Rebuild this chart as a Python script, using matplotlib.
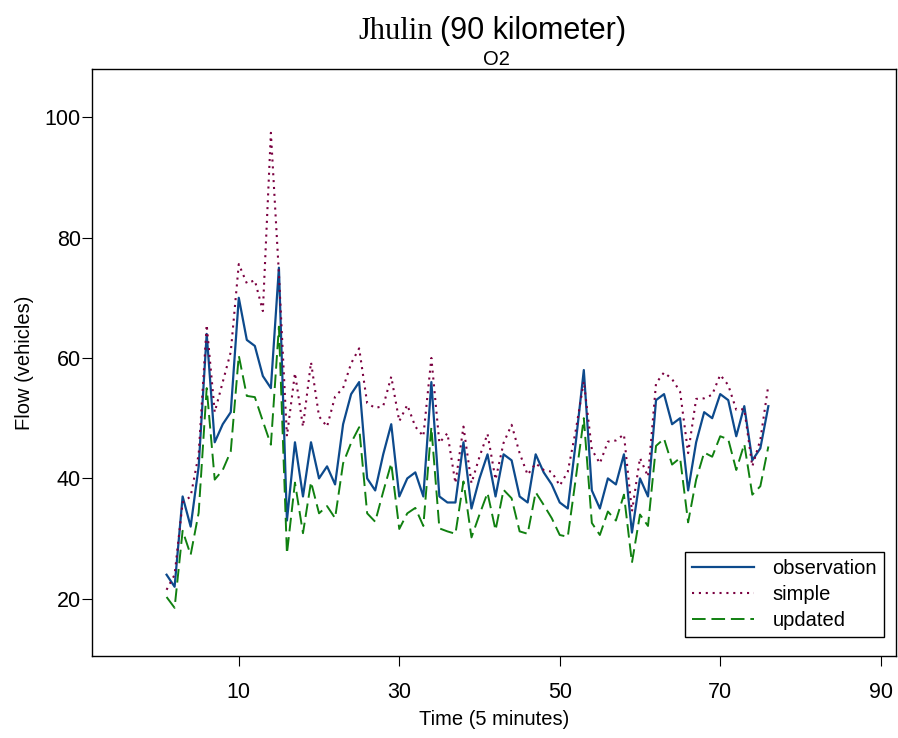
import numpy as np
import matplotlib.pyplot as plt

# time index (5 minute intervals)
t = np.arange(1, 77)

observation = [24, 22, 37, 32, 42, 64, 46, 49, 51, 70,
               63, 62, 57, 55, 75, 33, 46, 37, 46, 40,
               42, 39, 49, 54, 56, 40, 38, 44, 49, 37,
               40, 41, 37, 56, 37, 36, 36, 46, 35, 40,
               44, 37, 44, 43, 37, 36, 44, 41, 39, 36,
               35, 46, 58, 38, 35, 40, 39, 44, 31, 40,
               37, 53, 54, 49, 50, 38, 46, 51, 50, 54,
               53, 47, 52, 43, 45, 52]

simple = [21.5, 24, 36, 37, 44, 65.5, 51, 56, 61, 75.6,
          72.4, 72.9, 67.8, 97.4, 74, 47, 57.5, 48.6, 59.3, 50.3,
          48.6, 53.6, 55, 59.1, 61.6, 52.5, 51.7, 52, 56.9, 49.5,
          52.2, 48.6, 47, 60, 45.9, 47.5, 39.2, 48.6, 39.2, 43.6,
          47.4, 39.8, 45.9, 48.9, 44.2, 40.6, 42.5, 41.4, 41.1, 38.8,
          41.1, 48, 56.1, 44.8, 42.5, 46.1, 46.3, 47.3, 34.5, 43.4,
          40.3, 55.8, 57.6, 56.5, 54.4, 44.2, 53.2, 53.3, 53.9, 57.2,
          55.5, 51.4, 51.5, 42, 46.4, 55.5]

updated = [20.3, 18.5, 31.3, 27.3, 34.3, 55, 39.8, 41.4, 44.5, 60.4,
           53.7, 53.5, 49.5, 45.6, 65.2, 27.5, 39.3, 30.9, 39.4, 34.2,
           35.4, 33.4, 42.5, 45.9, 48.5, 34.2, 32.8, 37.8, 42.5, 31.6,
           34.2, 35.1, 32.1, 48.5, 31.7, 31.2, 30.8, 39.5, 30.2, 34,
           37.6, 31.4, 38.1, 36.7, 31.2, 30.8, 37.7, 35.6, 33.4, 30.6,
           30.3, 40, 50, 32.6, 30.6, 34.5, 33, 37.3, 26, 34,
           32.1, 45.4, 46.6, 42.3, 43.4, 32.7, 39.8, 44.3, 43.6, 47,
           46.5, 41.4, 45.7, 37.3, 38.7, 45.3]

xticks = [10, 30, 50, 70, 90]
yticks = [20, 40, 60, 80, 100]

plt.rcParams['font.family'] = ['Liberation Sans', 'DejaVu Sans']

fig = plt.figure(figsize=(8.98, 7.38), dpi=100)
ax = fig.add_axes([0.1024, 0.1111, 0.8953, 0.7954])

ax.plot(t, observation, color='#0d4a8c', lw=1.6, label='observation')
ax.plot(t, simple, color='#7a0040', lw=1.5, ls=(0, (1, 2.3)), label='simple')
ax.plot(t, updated, color='#108010', lw=1.4, ls=(0, (7, 3)), label='updated')

ax.set_xlim(-8.3, 91.9)
ax.set_ylim(10.5, 108)
ax.set_xticks(xticks)
ax.set_yticks(yticks)
ax.tick_params(direction='out', length=7, width=0.8, labelsize=15.5)
ax.tick_params(axis='x', pad=12)
ax.tick_params(axis='y', pad=1)
for s in ax.spines.values():
    s.set_linewidth(1.0)

ax.set_xlabel('Time (5 minutes)', fontsize=14.5, labelpad=5)
ax.set_ylabel('Flow (vehicles)', fontsize=14.5, labelpad=8)

# title: serif place name + sans distance
fig.text(0.482, 0.947, 'Jhulin', family='Liberation Serif', fontsize=22,
         ha='right', va='baseline')
fig.text(0.490, 0.947, '(90 kilometer)', fontsize=22,
         ha='left', va='baseline')
fig.text(0.553, 0.912, 'O2', fontsize=14.5, ha='center', va='baseline')

leg = ax.legend(loc='lower right', bbox_to_anchor=(0.985, 0.032),
                fontsize=14.5, fancybox=False, framealpha=1,
                edgecolor='black', handlelength=3.1, handletextpad=0.9,
                labelspacing=0.36, borderpad=0.35, borderaxespad=0)
leg.get_frame().set_linewidth(1.0)

fig.savefig('out.png', dpi=100)
